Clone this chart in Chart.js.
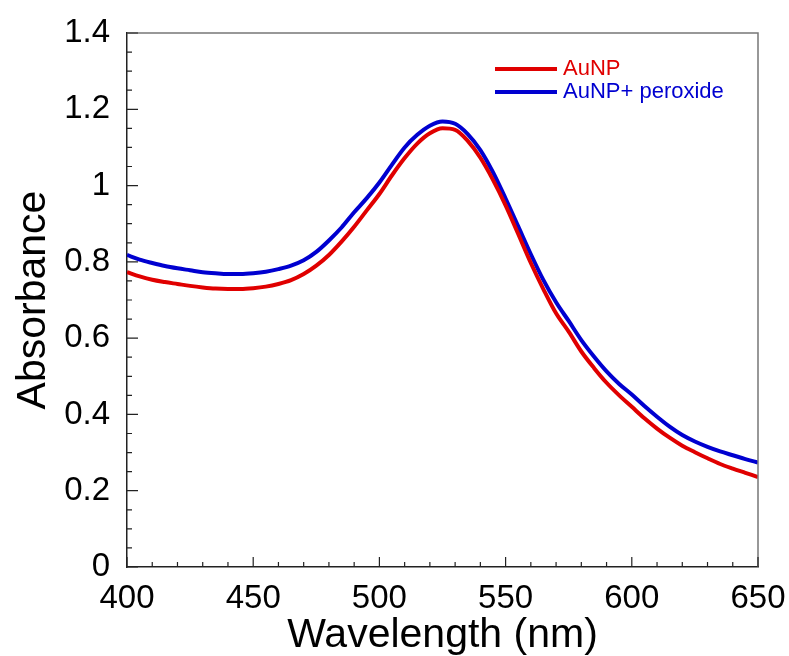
<!DOCTYPE html>
<html>
<head>
<meta charset="utf-8">
<title>Absorbance spectra</title>
<script src="https://cdn.jsdelivr.net/npm/chart.js@4.4.0/dist/chart.umd.js"></script>
<style>
  html, body { margin: 0; padding: 0; background: #fff; }
  canvas { display: block; }
</style>
</head>
<body>
<canvas id="chart" width="789" height="656"></canvas>
<script>
// wavelengths (nm), every 5 nm
const wavelengths = [
    400, 405, 410, 415, 420, 425, 430, 435, 440, 445,
    450, 455, 460, 465, 470, 475, 480, 485, 490, 495,
    500, 505, 510, 515, 520, 525, 530, 535, 540, 545,
    550, 555, 560, 565, 570, 575, 580, 585, 590, 595,
    600, 605, 610, 615, 620, 625, 630, 635, 640, 645, 650
];

const aunp = [
    0.773, 0.762, 0.753, 0.747, 0.742, 0.737, 0.733, 0.730, 0.729, 0.729,
    0.731, 0.735, 0.742, 0.752, 0.768, 0.790, 0.818, 0.853, 0.892, 0.935,
    0.978, 1.027, 1.072, 1.110, 1.137, 1.150, 1.146, 1.117, 1.073, 1.015,
    0.948, 0.873, 0.797, 0.728, 0.665, 0.617, 0.565, 0.522, 0.483, 0.450,
    0.420, 0.390, 0.363, 0.339, 0.318, 0.301, 0.285, 0.270, 0.258, 0.247, 0.236
];

const aunpPeroxide = [
    0.818, 0.806, 0.797, 0.789, 0.783, 0.778, 0.773, 0.770, 0.768, 0.768,
    0.770, 0.774, 0.781, 0.790, 0.804, 0.826, 0.856, 0.890, 0.930, 0.967,
    1.008, 1.055, 1.100, 1.133, 1.157, 1.168, 1.162, 1.135, 1.093, 1.035,
    0.966, 0.893, 0.820, 0.752, 0.694, 0.645, 0.595, 0.552, 0.513, 0.480,
    0.452, 0.422, 0.394, 0.368, 0.346, 0.329, 0.315, 0.303, 0.293, 0.283, 0.274
];

const xTicks = [400, 450, 500, 550, 600, 650];
const yTicks = [0, 0.2, 0.4, 0.6, 0.8, 1, 1.2, 1.4];

const FONT = "'Liberation Sans', Arial, Helvetica, sans-serif";
const RED = '#e00000';
const BLUE = '#0000d0';

// drop the label-overflow padding so layout.padding alone places the plot box
function noOverflow(scale) {
    scale.paddingTop = 0;
    scale.paddingBottom = 0;
    scale.paddingLeft = 0;
    scale.paddingRight = 0;
}

// top/right frame, inward tick marks and the legend
const framePlugin = {
    id: 'frame',
    afterDraw(chart) {
        const ctx = chart.ctx;
        const area = chart.chartArea;
        const xs = chart.scales.x;
        const ys = chart.scales.y;
        ctx.save();

        ctx.strokeStyle = '#777';
        ctx.lineWidth = 1.5;
        ctx.beginPath();
        ctx.moveTo(area.left, area.top);
        ctx.lineTo(area.right, area.top);
        ctx.lineTo(area.right, area.bottom);
        ctx.stroke();

        ctx.strokeStyle = '#222';
        ctx.lineWidth = 1.2;
        ctx.beginPath();
        for (let v = 400; v <= 650; v += 10) {
            const px = xs.getPixelForValue(v);
            const len = v % 50 === 0 ? 10 : 5;
            ctx.moveTo(px, area.bottom);
            ctx.lineTo(px, area.bottom - len);
        }
        for (let i = 0; i <= 28; i++) {
            const py = ys.getPixelForValue(i * 0.05);
            const len = i % 4 === 0 ? 11 : 5;
            ctx.moveTo(area.left, py);
            ctx.lineTo(area.left + len, py);
        }
        ctx.stroke();

        // legend
        const lx0 = area.right - 263;
        const lx1 = area.right - 201;
        ctx.font = '22px ' + FONT;
        ctx.textBaseline = 'middle';
        ctx.textAlign = 'left';
        chart.data.datasets.forEach((ds, i) => {
            const ly = area.top + 36 + i * 23;
            ctx.strokeStyle = ds.borderColor;
            ctx.lineWidth = 4;
            ctx.beginPath();
            ctx.moveTo(lx0, ly);
            ctx.lineTo(lx1, ly);
            ctx.stroke();
            ctx.fillStyle = ds.borderColor;
            ctx.fillText(ds.label, lx1 + 6, ly);
        });
        ctx.restore();
    }
};

new Chart(document.getElementById('chart'), {
    type: 'line',
    data: {
        datasets: [
            {
                label: 'AuNP',
                data: wavelengths.map((w, i) => ({ x: w, y: aunp[i] })),
                borderColor: RED,
                borderWidth: 4,
                pointRadius: 0,
                cubicInterpolationMode: 'monotone',
                fill: false
            },
            {
                label: 'AuNP+ peroxide',
                data: wavelengths.map((w, i) => ({ x: w, y: aunpPeroxide[i] })),
                borderColor: BLUE,
                borderWidth: 4,
                pointRadius: 0,
                cubicInterpolationMode: 'monotone',
                fill: false
            }
        ]
    },
    options: {
        responsive: false,
        animation: false,
        events: [],
        layout: { padding: { top: 33, right: 31, left: 0, bottom: 0 } },
        plugins: {
            legend: { display: false },
            tooltip: { enabled: false }
        },
        scales: {
            x: {
                type: 'linear',
                min: 400,
                max: 650,
                afterBuildTicks: (scale) => { scale.ticks = xTicks.map(v => ({ value: v })); },
                afterFit: (scale) => { scale.height = 89; noOverflow(scale); },
                ticks: {
                    font: { family: FONT, size: 33 },
                    color: '#000',
                    padding: 12,
                    maxRotation: 0
                },
                grid: { display: false, drawTicks: false },
                border: { display: true, color: '#222', width: 1.5 },
                title: {
                    display: true,
                    text: 'Wavelength (nm)',
                    font: { family: FONT, size: 41, lineHeight: 1 },
                    color: '#000',
                    padding: { top: 0, bottom: 0 }
                }
            },
            y: {
                min: 0,
                max: 1.4,
                afterBuildTicks: (scale) => { scale.ticks = yTicks.map(v => ({ value: v })); },
                afterFit: (scale) => { scale.width = 127; noOverflow(scale); },
                ticks: {
                    font: { family: FONT, size: 33 },
                    color: '#000',
                    padding: 17,
                    callback: (v) => String(Math.round(v * 10) / 10)
                },
                grid: { display: false, drawTicks: false },
                border: { display: true, color: '#222', width: 1.5 },
                title: {
                    display: true,
                    text: 'Absorbance',
                    font: { family: FONT, size: 41, lineHeight: 1 },
                    color: '#000',
                    padding: { top: 13, bottom: 0 }
                }
            }
        }
    },
    plugins: [framePlugin]
});
</script>
</body>
</html>
